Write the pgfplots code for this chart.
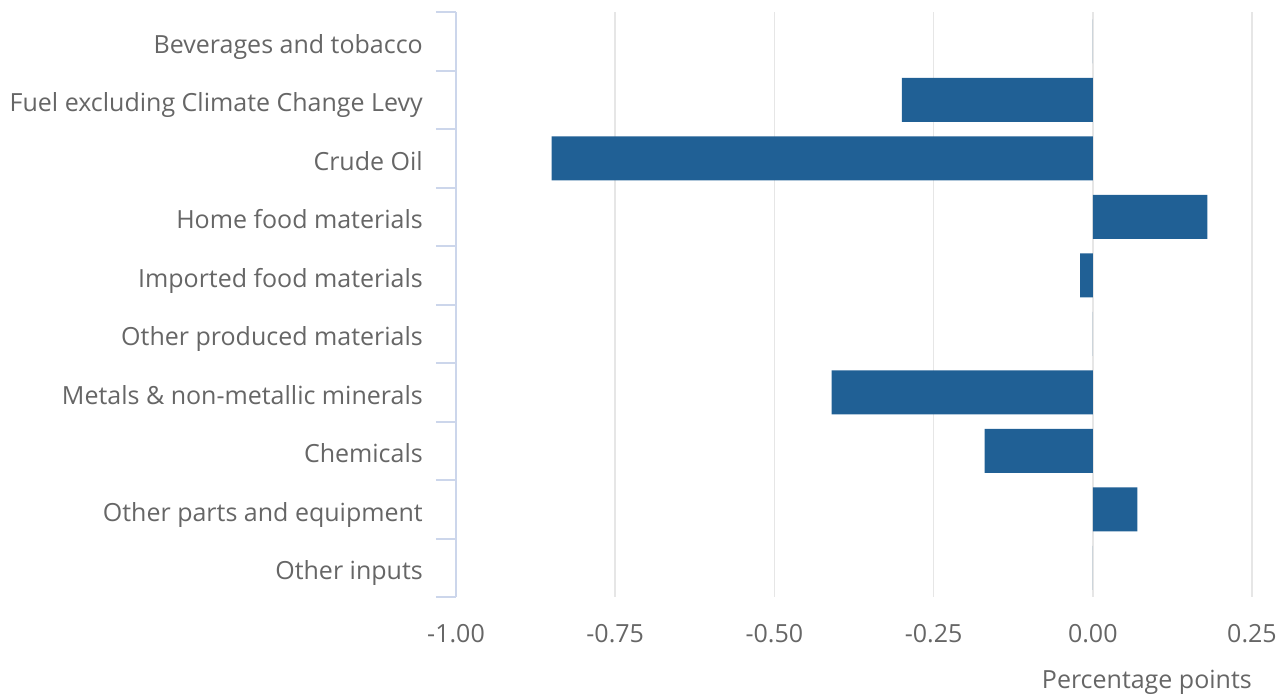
\documentclass[border=0pt]{standalone}
\usepackage{pgfplots}
\pgfplotsset{compat=1.18}
\usepackage{fontspec}
\setmainfont{Open Sans}
\definecolor{onsblue}{HTML}{206095}
\definecolor{txtgray}{HTML}{666666}
\definecolor{axblue}{HTML}{CCD6EB}
\definecolor{gridgray}{HTML}{E6E6E6}

\begin{document}
\begin{tikzpicture}
\useasboundingbox (0,0) rectangle (1286pt,697pt);
\begin{axis}[
  at={(456pt,100pt)}, anchor=south west,
  scale only axis,
  width=796pt, height=585pt,
  xbar, bar width=44pt,
  xmin=-1, xmax=0.25,
  ymin=-0.5, ymax=9.5,
  y dir=reverse,
  axis x line*=bottom,
  axis y line*=left,
  x axis line style={draw=none},
  y axis line style={draw=axblue, line width=2pt},
  xtick={-1,-0.75,-0.5,-0.25,0,0.25},
  xmajorgrids=true,
  grid style={draw=gridgray, line width=1.5pt},
  major tick length=0pt,
  minor tick length=20pt,
  tick align=outside,
  ytick={0,1,2,3,4,5,6,7,8,9},
  minor ytick={-0.5,0.5,1.5,2.5,3.5,4.5,5.5,6.5,7.5,8.5,9.5},
  minor y tick style={draw=axblue, line width=2pt},
  yticklabels={Beverages and tobacco, Fuel excluding Climate Change Levy, Crude Oil, Home food materials, Imported food materials, Other produced materials, Metals \& non-metallic minerals, Chemicals, Other parts and equipment, Other inputs},
  tick label style={font=\fontsize{25}{30}\selectfont, text=txtgray},
  yticklabel style={anchor=base east, inner sep=0pt, xshift=-33pt, yshift=-12pt},
  xticklabel style={anchor=base, inner sep=0pt, yshift=-45pt},
  /pgf/number format/.cd, fixed, fixed zerofill, precision=2, assume math mode=true,
  /pgfplots/.cd,
  xlabel={Percentage points},
  xlabel style={at={(rel axis cs:1,0)}, anchor=base east, inner sep=0pt, yshift=-91pt, font=\fontsize{25}{30}\selectfont, text=txtgray},
]
\addplot[fill=onsblue, draw=none] coordinates {
  (0,0) (-0.30,1) (-0.85,2) (0.18,3) (-0.02,4)
  (0,5) (-0.41,6) (-0.17,7) (0.07,8) (0,9)
};
\end{axis}
\end{tikzpicture}
\end{document}
